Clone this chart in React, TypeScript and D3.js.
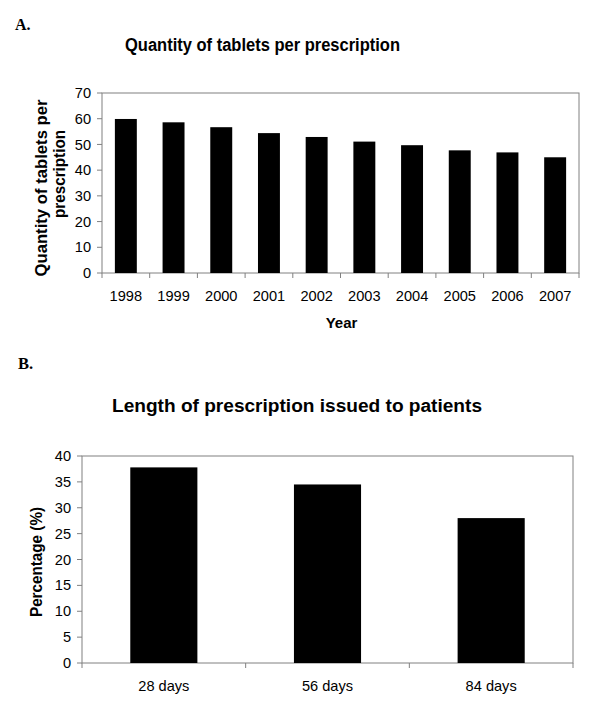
import React from "react";
import * as d3 from "d3";

const yearsA = ["1998","1999","2000","2001","2002","2003","2004","2005","2006","2007"];
const valuesA = [59.9, 58.6, 56.7, 54.4, 52.9, 51.1, 49.7, 47.7, 46.9, 45.0];
const ticksA = [0,10,20,30,40,50,60,70];

const catsB = ["28 days","56 days","84 days"];
const valuesB = [37.8, 34.5, 28.0];
const ticksB = [0,5,10,15,20,25,30,35,40];

const FONT = "Liberation Sans, Arial, sans-serif";
const SERIF = "Liberation Serif, Times New Roman, serif";
const GRID = "#808080";

function Panel({cats, vals, ticks, x0, x1, y0, y1, pad, yMax, fs}: any) {
  const x = d3.scaleBand().domain(cats).range([x0, x1]).paddingInner(pad).paddingOuter(pad / 2);
  const xb = d3.scaleBand().domain(cats).range([x0, x1]);
  const y = d3.scaleLinear().domain([0, yMax]).range([y1, y0]);
  return (
    <g>
      <rect x={x0} y={y0} width={x1 - x0} height={y1 - y0} fill="none" stroke={GRID} strokeWidth={1} />
      {ticks.map((t: number) => (
        <g key={t}>
          <line x1={x0 - 5} x2={x0} y1={y(t)} y2={y(t)} stroke={GRID} />
          <text x={x0 - 11} y={y(t)} dy="0.35em" textAnchor="end" fontSize={fs} fontFamily={FONT} fill="#000">{t}</text>
        </g>
      ))}
      {cats.map((c: string, i: number) => (
        <g key={c}>
          <line x1={xb(c)!} x2={xb(c)!} y1={y1} y2={y1 + 5} stroke={GRID} />
          {i === cats.length - 1 && <line x1={x1} x2={x1} y1={y1} y2={y1 + 5} stroke={GRID} />}
          <rect x={x(c)!} y={y(vals[i])} width={x.bandwidth()} height={y1 - y(vals[i])} fill="#000" />
          <text x={xb(c)! + xb.bandwidth() / 2} y={y1 + 28} textAnchor="middle" fontSize={fs} fontFamily={FONT} fill="#000">{c}</text>
        </g>
      ))}
    </g>
  );
}

export default function App() {
  return (
    <svg width={600} height={707} style={{position: "absolute", left: 0, top: 0, background: "#fff"}}>
      <rect width={600} height={707} fill="#fff" />
      <text x={15} y={30} fontFamily={SERIF} fontWeight="bold" fontSize={16}>A.</text>
      <text x={125} y={51} fontFamily={FONT} fontWeight="bold" fontSize={18} textLength={275} lengthAdjust="spacingAndGlyphs">Quantity of tablets per prescription</text>
      <Panel cats={yearsA} vals={valuesA} ticks={ticksA} x0={102} x1={579} y0={93} y1={273} pad={0.54} yMax={70} fs={14.6} />
      <text transform="translate(47,188) rotate(-90)" textAnchor="middle" fontFamily={FONT} fontWeight="bold" fontSize={16.5} textLength={177} lengthAdjust="spacingAndGlyphs">Quantity of tablets per</text>
      <text transform="translate(65,174) rotate(-90)" textAnchor="middle" fontFamily={FONT} fontWeight="bold" fontSize={16.5} textLength={88} lengthAdjust="spacingAndGlyphs">prescription</text>
      <text x={341.5} y={328} textAnchor="middle" fontFamily={FONT} fontWeight="bold" fontSize={15}>Year</text>

      <text x={18} y={369} fontFamily={SERIF} fontWeight="bold" fontSize={16.5}>B.</text>
      <text x={112} y={412} fontFamily={FONT} fontWeight="bold" fontSize={18} textLength={370} lengthAdjust="spacingAndGlyphs">Length of prescription issued to patients</text>
      <Panel cats={catsB} vals={valuesB} ticks={ticksB} x0={82} x1={573} y0={456} y1={663} pad={0.59} yMax={40} fs={14.6} />
      <text transform="translate(42,562) rotate(-90)" textAnchor="middle" fontFamily={FONT} fontWeight="bold" fontSize={16.5} textLength={110} lengthAdjust="spacingAndGlyphs">Percentage (%)</text>
    </svg>
  );
}
